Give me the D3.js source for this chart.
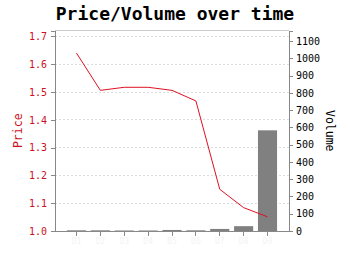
<!DOCTYPE html>
<html><head><meta charset="utf-8">
<script src="https://cdn.jsdelivr.net/npm/d3@7"></script>
<style>body{margin:0;background:#fff}svg{display:block}</style>
</head><body>
<svg id="c" width="350" height="255"></svg>
<script>
const categories = ["D1","D2","D3","D4","D5","D6","D7","D8","D9"];
const priceValues = [1.64, 1.506, 1.517, 1.517, 1.506, 1.468, 1.15, 1.084, 1.051];
const volumeValues = [4, 4, 3, 3, 6, 4, 12, 28, 583];
const priceTicks = [1.0, 1.1, 1.2, 1.3, 1.4, 1.5, 1.6, 1.7];
const volumeTicks = [0,100,200,300,400,500,600,700,800,900,1000,1100];

const svg = d3.select("#c");
const L = 55, R = 289, T = 30.5, B = 231;
const mono = "'DejaVu Sans Mono', monospace";
const red = "#cc1122";
const axisCol = "#888";

const x = d3.scaleBand().domain(categories).range([L, R]).paddingInner(0.2).paddingOuter(0.5);
const yP = d3.scaleLinear().domain([1.0, 1.7213]).range([B, T]);
const yV = d3.scaleLinear().domain([0, 1161]).range([B, T]);

// title
svg.append("text").attr("x", 175).attr("y", 20).attr("text-anchor", "middle")
  .attr("font-family", mono).attr("font-weight", "bold").attr("font-size", 18).attr("fill", "#000")
  .text("Price/Volume over time");

// grid
svg.append("g").selectAll("line").data(priceTicks.slice(1)).join("line")
  .attr("x1", L).attr("x2", R).attr("y1", d => yP(d)).attr("y2", d => yP(d))
  .attr("stroke", "#ddd").attr("stroke-dasharray", "2,2").attr("shape-rendering", "crispEdges");

// bars
svg.append("g").selectAll("rect").data(volumeValues).join("rect")
  .attr("x", (d, i) => x(categories[i])).attr("width", x.bandwidth())
  .attr("y", d => yV(d)).attr("height", d => B - yV(d)).attr("fill", "#808080");

// line
const line = d3.line().x((d, i) => x(categories[i]) + x.bandwidth() / 2).y(d => yP(d));
svg.append("path").datum(priceValues).attr("d", line).attr("fill", "none")
  .attr("stroke", "#dd1122").attr("stroke-width", 1);

// top border
svg.append("line").attr("x1", L).attr("x2", R).attr("y1", T).attr("y2", T)
  .attr("stroke", "#ccc").attr("shape-rendering", "crispEdges");

function styleAxis(g, col) {
  g.selectAll("path,line").attr("stroke", axisCol).attr("shape-rendering", "crispEdges");
  g.selectAll("text").attr("font-family", mono).attr("font-size", 10).attr("fill", col);
}

// left axis
const gl = svg.append("g").attr("transform", `translate(${L},0)`)
  .call(d3.axisLeft(yP).tickValues(priceTicks).tickFormat(d3.format(".1f")).tickSizeOuter(0).tickSize(4).tickPadding(4));
styleAxis(gl, red);

// right axis
const gr = svg.append("g").attr("transform", `translate(${R},0)`)
  .call(d3.axisRight(yV).tickValues(volumeTicks).tickFormat(d3.format("d")).tickSizeOuter(0).tickSize(4).tickPadding(3));
styleAxis(gr, "#000");

// bottom axis
const gb = svg.append("g").attr("transform", `translate(0,${B})`)
  .call(d3.axisBottom(x).tickSizeOuter(0).tickSize(5).tickPadding(2));
styleAxis(gb, "#f3f3f3");
gb.selectAll("text").attr("font-size", 8);
gb.select(".domain").attr("d", `M${L},0.5H${R}`);

// axis titles
svg.append("text").attr("transform", `translate(22,${(T + B) / 2}) rotate(-90)`).attr("text-anchor", "middle")
  .attr("font-family", mono).attr("font-size", 11.5).attr("fill", red).text("Price");
svg.append("text").attr("transform", `translate(326,${(T + B) / 2}) rotate(90)`).attr("text-anchor", "middle")
  .attr("font-family", mono).attr("font-size", 11.5).attr("fill", "#000").text("Volume");
</script>
</body></html>
